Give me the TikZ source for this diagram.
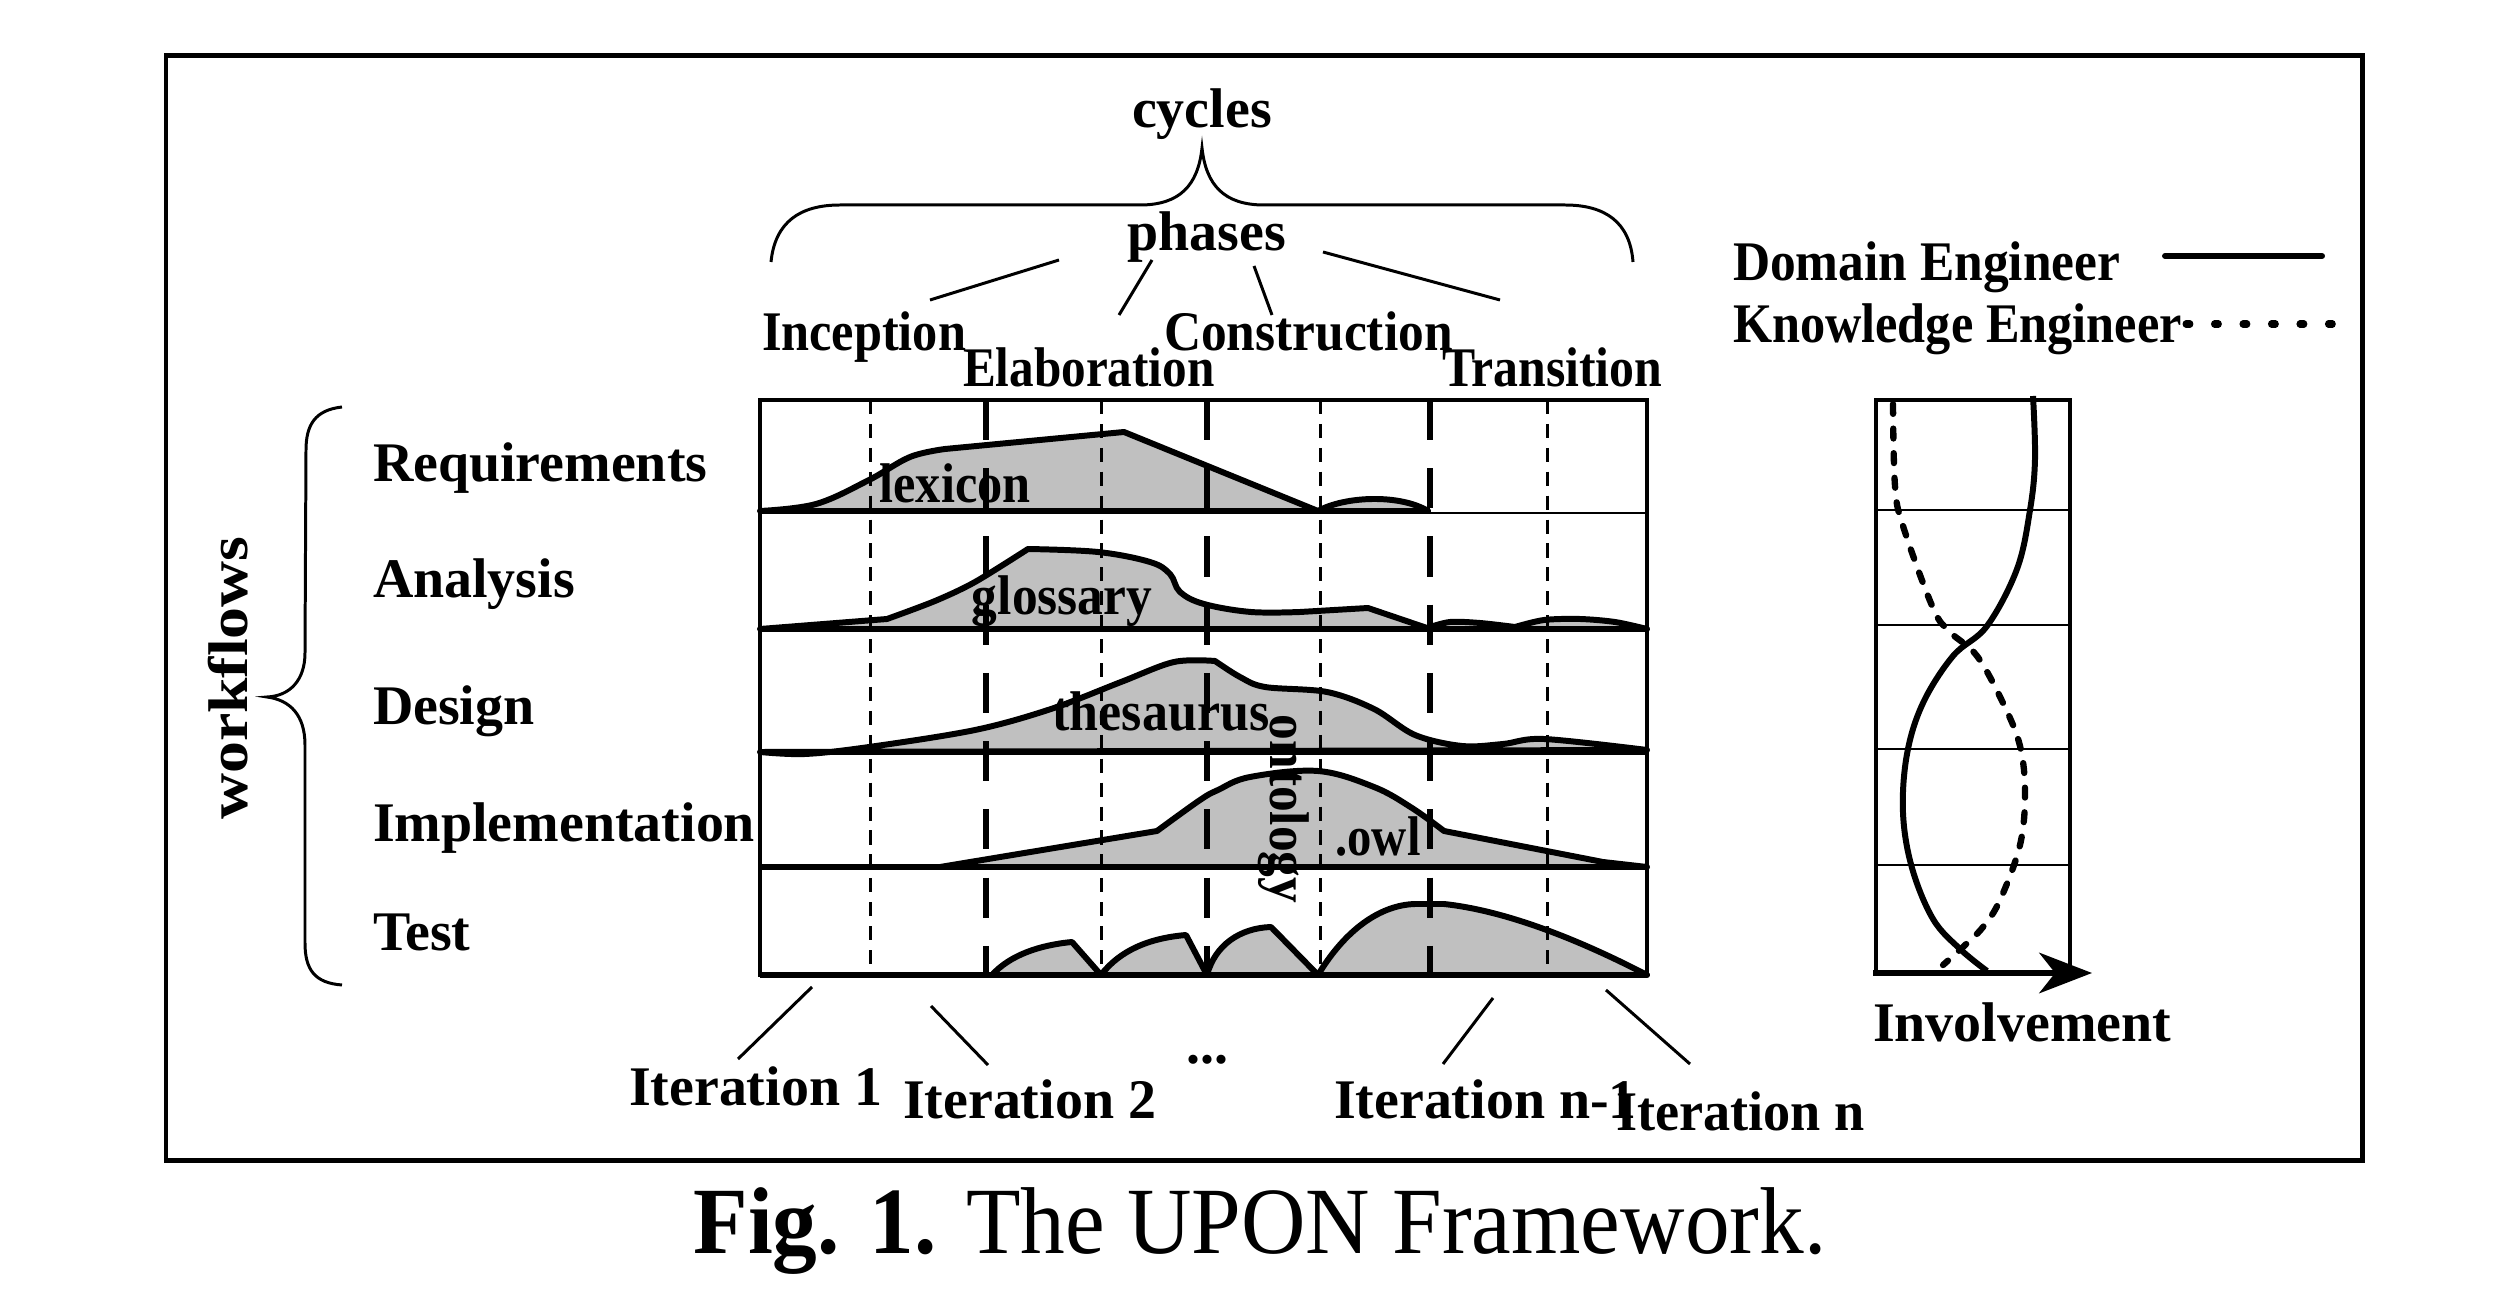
\documentclass[tikz,border=0pt]{standalone}
\usepackage{fontspec}
\setmainfont{Liberation Serif}
\usepackage{graphicx}
\usetikzlibrary{arrows.meta}
\definecolor{areagray}{RGB}{192,192,192}
\newcommand\lblfont{\fontsize{15.9}{19}\selectfont\bfseries}
\newcommand\squeeze[2]{\scalebox{#1}[1]{#2}}
\begin{document}
\begin{tikzpicture}[x=0.01cm,y=-0.01cm,
  lbl/.style={font=\lblfont, inner sep=0pt, outer sep=0pt},
  thinline/.style={line width=0.85pt},
  medline/.style={line width=1.1pt},
  thickline/.style={line width=1.7pt},
  area/.style={fill=areagray, draw=black, line width=1.7pt, line join=round},
  iterdash/.style={line width=0.85pt, dash pattern=on 4pt off 2.8pt},
  phasedash/.style={line width=1.8pt, dash pattern=on 11.4pt off 8pt},
  kedash/.style={line width=1.8pt, line cap=round, dash pattern=on 2.8pt off 4.2pt},
  kedot/.style={line width=2pt, line cap=round, dash pattern=on 1.1pt off 7pt}]
\useasboundingbox (0,0) rectangle (2518,1316);
% outer frame
\draw[line width=1.42pt] (166,56) rectangle (2362,1160);

% ---------- cycles / phases ----------
\node[lbl, anchor=base] (cycles) at (1202,128) {cycles};
\node[lbl, anchor=base] (phases) at (1207,251) {phases};
\draw[thinline] (771,262) .. controls (775,222) and (800,205) .. (840,205) -- (1140,205)
  .. controls (1180,205) and (1198,185) .. (1202,148)
  .. controls (1206,185) and (1224,205) .. (1264,205) -- (1565,205)
  .. controls (1605,205) and (1630,222) .. (1633,262);
\node[lbl, anchor=base west] (inc) at (762,351) {\squeeze{0.9}{Inception}};
\node[lbl, anchor=base west] (ela) at (963,387) {\squeeze{0.88}{Elaboration}};
\node[lbl, anchor=base west] (con) at (1164,351) {\squeeze{0.92}{Construction}};
\node[lbl, anchor=base west] (tra) at (1442,387) {\squeeze{0.89}{Transition}};
\coordinate (p1a) at (1059,260); \coordinate (p1b) at (930,300);
\coordinate (p2a) at (1152,260); \coordinate (p2b) at (1119,315);
\coordinate (p3a) at (1254,266); \coordinate (p3b) at (1272,315);
\coordinate (p4a) at (1323,252); \coordinate (p4b) at (1500,300);
\draw[thinline] (p1a) -- (p1b);
\draw[thinline] (p2a) -- (p2b);
\draw[thinline] (p3a) -- (p3b);
\draw[thinline] (p4a) -- (p4b);

% ---------- workflow areas ----------
% Requirements
\filldraw[area] plot[smooth, tension=0.6] coordinates {(760,511) (816,504) (869,480) (910,457) (945,449)}
  -- (1124,432) -- (1318,511) -- cycle;
\filldraw[area] (1318,511) .. controls (1345,496) and (1400,494) .. (1428,511) -- cycle;
% Analysis
\filldraw[area] (760,629) -- (887,619)
  -- plot[smooth, tension=0.5] coordinates {(887,619) (935,601) (975,582) (1028,549)}
  -- plot[smooth, tension=0.6] coordinates {(1028,549) (1098,552) (1150,562) (1170,574) (1180,592) (1204,604) (1251,612) (1300,612)}
  -- (1368,608) -- (1427,628)
  -- plot[smooth] coordinates {(1427,628) (1450,622) (1480,623) (1515,627)}
  -- plot[smooth] coordinates {(1515,627) (1544,620) (1580,619) (1615,622) (1647,629)}
  -- cycle;
% Design
\filldraw[area] plot[smooth, tension=0.55] coordinates {(760,752) (805,754) (869,747) (975,730) (1051,709) (1121,682) (1174,662) (1215,661)}
  -- plot[smooth, tension=0.55] coordinates {(1215,661) (1240,677) (1265,687) (1327,692) (1374,709) (1415,735) (1462,746) (1503,744) (1544,739) (1647,750)}
  -- cycle;
% Implementation
\filldraw[area] (940,867) -- (1157,831)
  -- plot[smooth, tension=0.6] coordinates {(1157,831) (1200,800) (1218,790) (1250,777) (1318,771) (1374,787) (1412,808) (1444,831)}
  -- (1603,862) -- (1647,867) -- cycle;
% Test
\filldraw[area] (992,975) .. controls (1010,955) and (1040,945) .. (1072,942) -- (1101,975) -- cycle;
\filldraw[area] (1101,975) .. controls (1120,950) and (1150,938) .. (1186,935) -- (1207,975) -- cycle;
\filldraw[area] (1207,975) .. controls (1215,945) and (1240,928) .. (1271,927) -- (1318,975) -- cycle;
\filldraw[area] (1318,975) .. controls (1345,930) and (1380,905) .. (1415,904) -- (1444,904)
  .. controls (1500,910) and (1570,935) .. (1647,975) -- cycle;

% ---------- grid ----------
\foreach \xx in {870,1101,1320,1547} \draw[iterdash] (\xx,400) -- (\xx,975);
\foreach \xx in {986,1207,1430} \draw[phasedash] (\xx,400) -- (\xx,975);
\draw[medline] (760,400) rectangle (1647,975);
\draw[thickline] (760,511) -- (1430,511);
\draw[thinline] (1430,513) -- (1647,513);
\foreach \yy in {629,752,867} \draw[thickline] (760,\yy) -- (1647,\yy);
\draw[thickline] (760,975) -- (1647,975);

% labels inside
\node[lbl, anchor=base] (lex) at (955,503) {\squeeze{0.9}{lexicon}};
\node[lbl, anchor=base] (glo) at (1062,615) {\squeeze{0.92}{glossary}};
\node[lbl, anchor=base] (the) at (1161,731) {\squeeze{0.93}{thesaurus}};
\node[lbl, anchor=base] (owl) at (1378,855) {\squeeze{0.87}{.owl}};
\node[lbl, rotate=-90, anchor=center] (ont) at (1284,809) {\squeeze{0.92}{ontology}};

% ---------- workflows ----------
\node[lbl, anchor=base west] (req) at (373,482) {Requirements};
\node[lbl, anchor=base west] (ana) at (373,598) {Analysis};
\node[lbl, anchor=base west] (des) at (373,725) {Design};
\node[lbl, anchor=base west] (imp) at (373,841) {Implementation};
\node[lbl, anchor=base west] (tst) at (373,950) {Test};
\draw[thinline] (342,407) .. controls (315,410) and (306,425) .. (306,450) -- (305,653)
  .. controls (305,680) and (290,696) .. (267,697)
  .. controls (290,700) and (305,715) .. (305,745) -- (305,943)
  .. controls (305,970) and (315,983) .. (342,985);
\node[lbl, rotate=90, anchor=center] (wf) at (228,678) {\squeeze{1.14}{workflows}};

% ---------- iterations ----------
\node[lbl, anchor=base west] (it1) at (629,1105) {Iteration 1};
\node[lbl, anchor=base west] (it2) at (903,1118) {Iteration 2};
\node[lbl, anchor=base] (dots) at (1207,1063) {...};
\node[lbl, anchor=base west] (itm) at (1334,1118) {Iteration n-1};
\node[lbl, anchor=base west] (itn) at (1616,1130) {\squeeze{0.97}{Iteration n}};
\coordinate (i1a) at (812,987); \coordinate (i1b) at (738,1059);
\coordinate (i2a) at (931,1006); \coordinate (i2b) at (988,1065);
\coordinate (i3a) at (1493,998); \coordinate (i3b) at (1443,1064);
\coordinate (i4a) at (1606,990); \coordinate (i4b) at (1690,1064);
\draw[thinline] (i1a) -- (i1b);
\draw[thinline] (i2a) -- (i2b);
\draw[thinline] (i3a) -- (i3b);
\draw[thinline] (i4a) -- (i4b);

% ---------- legend ----------
\node[lbl, anchor=base west] (dom) at (1733,281) {\squeeze{0.92}{Domain Engineer}};
\node[lbl, anchor=base west] (kno) at (1733,343) {\squeeze{0.9}{Knowledge Engineer}};
\coordinate (l1a) at (2165,256); \coordinate (l1b) at (2322,256);
\coordinate (l2a) at (2186,324); \coordinate (l2b) at (2345,324);
\draw[thickline, line cap=round] (l1a) -- (l1b);
\draw[kedot] (l2a) -- (l2b);

% ---------- involvement panel ----------
\draw[medline] (1876,973) -- (1876,400) -- (2070,400) -- (2070,973);
\foreach \yy in {510,625,749,865} \draw[thinline] (1876,\yy) -- (2070,\yy);
\draw[thickline] plot[smooth, tension=0.6] coordinates {(2033,396) (2035,459) (2030,510) (2017,569) (1987,626) (1953,656) (1923,703) (1907,754) (1903,813) (1912,868) (1933,919) (1960,949) (1987,971)};
\draw[kedash] plot[smooth, tension=0.6] coordinates {(1893,404) (1895,486) (1903,526) (1933,608) (1950,632) (1977,656) (2003,703) (2020,746) (2025,793) (2020,845) (2000,900) (1983,927) (1963,947) (1943,965)};
\coordinate (ax0) at (1873,973); \coordinate (ax1) at (2092,973);
\draw[thickline, -{Stealth[length=15pt, width=11.5pt, inset=4.5pt]}] (ax0) -- (ax1);
\node[lbl, anchor=base west] (inv) at (1873,1041) {Involvement};

% ---------- caption ----------
\node[inner sep=0pt, anchor=base] (cap) at (1260,1253)
  {\fontsize{27}{32}\selectfont\squeeze{0.94}{\textbf{Fig. 1.} The UPON Framework.}};
\end{tikzpicture}
\end{document}
